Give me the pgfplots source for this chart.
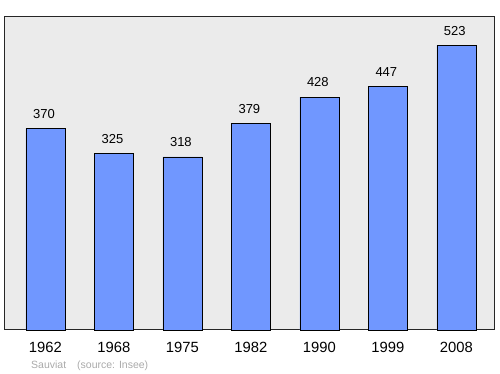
\documentclass[border=0pt]{standalone}
\usepackage{pgfplots}
\pgfplotsset{compat=1.18}
\usepackage{fontspec}
\setmainfont{Liberation Sans}
\definecolor{barblue}{RGB}{112,151,255}
\definecolor{bgc}{RGB}{235,235,235}
\definecolor{foot}{RGB}{170,170,170}
\begin{document}
\begin{tikzpicture}[x=1pt,y=1pt]
\path[use as bounding box] (0,0) rectangle (500,374);
\begin{axis}[
  at={(5pt,44pt)}, anchor=south west,
  scale only axis, width=489pt, height=313pt,
  xmin=-0.59, xmax=6.55, ymin=0, ymax=575,
  axis background/.style={fill=bgc},
  axis line style={black!85, line width=1pt},
  ybar, bar width=0.57,
  xtick={0,1,2,3,4,5,6},
  xticklabels={1962,1968,1975,1982,1990,1999,2008},
  ytick=\empty,
  major tick length=0pt,
  xticklabel style={font=\fontsize{14.8}{16}\selectfont, anchor=center, yshift=-17pt},
  nodes near coords,
  every node near coord/.append style={font=\fontsize{13}{14}\selectfont, anchor=center, yshift=14.5pt, xshift=-1.5pt},
  /pgf/number format/assume math mode=true,
  clip=false,
]
\addplot[fill=barblue, draw=black, line width=0.6pt] coordinates {
(0,370) (1,325) (2,318) (3,379) (4,428) (5,447) (6,523)};
\end{axis}
\node[anchor=base west, inner sep=0, text=foot, font=\fontsize{10.5}{12}\selectfont] at (31,5) {Sauviat};
\node[anchor=base west, inner sep=0, text=foot, font=\fontsize{10.5}{12}\selectfont] at (77,5) {(source: Insee)};
\end{tikzpicture}
\end{document}
